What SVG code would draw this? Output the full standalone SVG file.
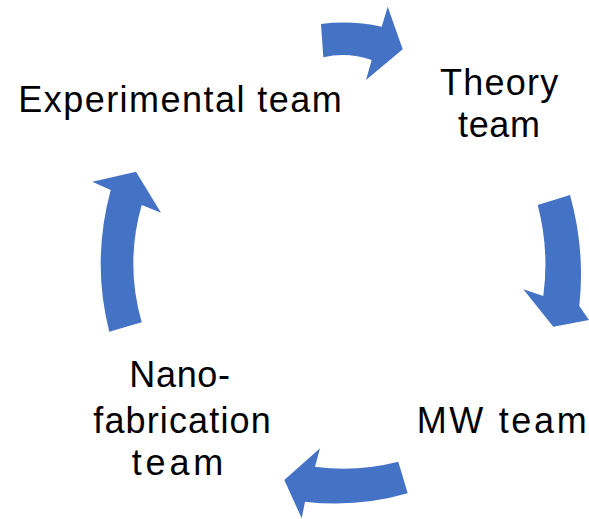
<svg xmlns="http://www.w3.org/2000/svg" width="589" height="519" viewBox="0 0 589 519">
<style>
.lbl{font-family:"Liberation Sans",Arial,sans-serif;font-size:36px;fill:#000}
.arr{fill:#4472C4}
</style>
<rect width="589" height="519" fill="#fff"/>
<g id="connectors">
<path class="arr" d="M321,24 Q351,20 381.7,26.7 L387.7,6.7 L402.7,49.3 L366,80 L371.7,60 Q347,51.4 323.3,57.3 Z"/>
<path class="arr" d="M537.7,205 L570,195 Q585.4,250 579.3,306 L589,320 L553.3,326.7 L523.3,289.3 L543.3,296 Q549.5,250 537.7,205 Z"/>
<path class="arr" d="M398.3,461.7 Q356,472.4 315,466.7 L320,448.3 L284.3,480 L301.7,518.3 L305,501.7 Q357,507.9 407.7,493.3 Z"/>
<path class="arr" d="M109.3,331.7 Q91.4,262 110.7,190 L92.3,181.7 L136,171.7 L161,212.7 L141.7,205 Q124.9,264 141.7,322.3 Z"/>
</g>
<g id="experimental">
<text class="lbl" x="18.3" y="112.3" textLength="323.4">Experimental team</text>
</g>
<g id="theory">
<text class="lbl" x="440" y="95" textLength="118.3">Theory</text>
<text class="lbl" x="458" y="136.7" textLength="82">team</text>
</g>
<g id="mw">
<text class="lbl" x="416.7" y="433.3" textLength="170">MW team</text>
</g>
<g id="nano">
<text class="lbl" x="129.3" y="387.3" textLength="100.7">Nano-</text>
<text class="lbl" x="93.3" y="433.3" textLength="177.4">fabrication</text>
<text class="lbl" x="131.7" y="475" textLength="91.6">team</text>
</g>
</svg>
